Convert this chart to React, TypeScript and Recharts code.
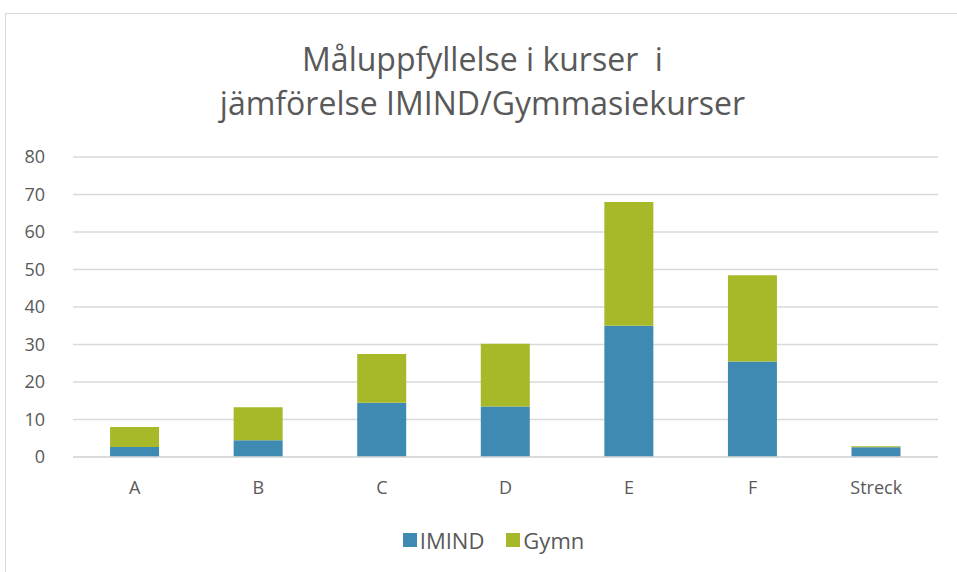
import React from 'react';
import { BarChart, Bar, XAxis, YAxis, CartesianGrid, Legend } from 'recharts';

const categories = ['A', 'B', 'C', 'D', 'E', 'F', 'Streck'];
const imind = [2.7, 4.5, 14.5, 13.5, 35, 25.5, 2.6];
const gymn = [5.3, 8.8, 13, 16.7, 33, 23, 0.3];
const yTicks = [0, 10, 20, 30, 40, 50, 60, 70, 80];
const seriesNames = ['IMIND', 'Gymn'];
const seriesColors = ['#3f8ab3', '#a7b829'];

const data = categories.map((c, i) => ({ name: c, IMIND: imind[i], Gymn: gymn[i] }));

const FONT = '"Open Sans", sans-serif';
const GREY = '#595959';

const XTick = (props: any) => {
  const { x, y, payload } = props;
  return (
    <text x={x} y={y} dy={31} textAnchor="middle" fill={GREY} fontSize={18} fontFamily={FONT}>
      {payload.value}
    </text>
  );
};

const YTick = (props: any) => {
  const { x, y, payload } = props;
  return (
    <text x={x} y={y} dy={6} textAnchor="end" fill={GREY} fontSize={18} fontFamily={FONT}>
      {payload.value}
    </text>
  );
};

const LegendContent = () => (
  <div style={{ display: 'flex', justifyContent: 'center', alignItems: 'center', fontFamily: FONT, fontSize: 22, color: GREY, paddingLeft: 30 }}>
    {seriesNames.map((n, i) => (
      <div key={n} style={{ display: 'flex', alignItems: 'center', marginRight: i === 0 ? 22 : 0 }}>
        <span style={{ display: 'inline-block', width: 14, height: 14, background: seriesColors[i], marginRight: 3 }} />
        <span>{n}</span>
      </div>
    ))}
  </div>
);

export default function App() {
  return (
    <div style={{ position: 'absolute', left: 0, top: 0, width: 957, height: 572, background: '#fff', overflow: 'hidden', fontFamily: FONT }}>
      <div style={{ position: 'absolute', left: 5, top: 13, width: 1000, height: 600, border: '1px solid #d9d9d9', boxSizing: 'border-box' }} />
      <div style={{ position: 'absolute', left: 4, top: 37, width: 957, textAlign: 'center', color: GREY, fontSize: 32, lineHeight: '44px' }}>
        <div>Måluppfyllelse i kurser&nbsp; i</div>
        <div>jämförelse IMIND/Gymmasiekurser</div>
      </div>
      <div style={{ position: 'absolute', left: 0, top: 0 }}>
        <BarChart width={957} height={572} data={data} margin={{ top: 157, right: 19, bottom: 55, left: 0 }} barCategoryGap="30%">
          <CartesianGrid vertical={false} stroke="#d9d9d9" strokeWidth={1.5} />
          <XAxis dataKey="name" axisLine={{ stroke: '#d9d9d9', strokeWidth: 1.5 }} tickLine={false} tick={<XTick />} tickMargin={0} height={30} />
          <YAxis domain={[0, 80]} ticks={yTicks} axisLine={false} tickLine={false} width={73} tick={<YTick />} tickMargin={22} interval={0} />
          <Legend content={<LegendContent />} wrapperStyle={{ position: 'absolute', top: 525, left: 0, width: 957 }} />
          <Bar dataKey="IMIND" stackId="a" fill={seriesColors[0]} isAnimationActive={false} />
          <Bar dataKey="Gymn" stackId="a" fill={seriesColors[1]} isAnimationActive={false} />
        </BarChart>
      </div>
    </div>
  );
}
